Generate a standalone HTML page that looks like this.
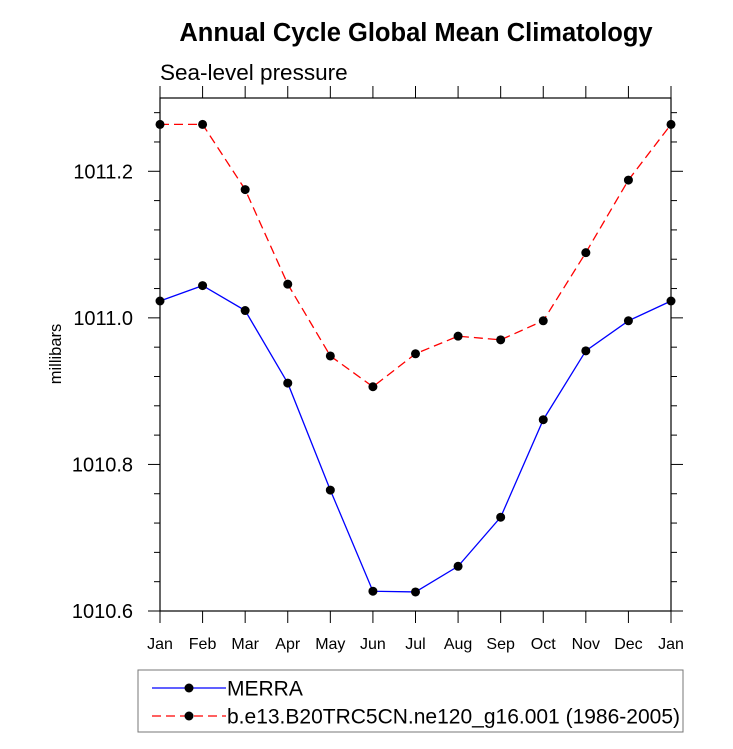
<!DOCTYPE html>
<html><head><meta charset="utf-8"><style>
body{margin:0;background:#fff;font-family:"Liberation Sans",sans-serif}
</style></head><body>
<svg id="chart" width="733" height="744" xmlns="http://www.w3.org/2000/svg" font-family="Liberation Sans, sans-serif">
<text x="416" y="41" text-anchor="middle" font-size="25.5" font-weight="bold">Annual Cycle Global Mean Climatology</text>
<text x="160" y="80" font-size="22.5">Sea-level pressure</text>
<text transform="translate(61,354) rotate(-90)" text-anchor="middle" font-size="16.5">millibars</text>
<g id="axes"></g>
<g id="series"></g>
<rect x="138" y="670" width="545" height="62" fill="none" stroke="#777" stroke-width="1"/>
<g>
<line x1="152" y1="688" x2="226" y2="688" stroke="#00f" stroke-width="1.3"/>
<circle cx="189" cy="688" r="4.5" fill="#000"/>
<text x="227" y="695.5" font-size="21">MERRA</text></g>
<g>
<line x1="152" y1="716" x2="226" y2="716" stroke="#f00" stroke-width="1.3" stroke-dasharray="9,5"/>
<circle cx="189" cy="716" r="4.5" fill="#000"/>
<text x="227" y="723.5" font-size="21">b.e13.B20TRC5CN.ne120_g16.001 (1986-2005)</text></g>
</svg>
<script>
const months=["Jan","Feb","Mar","Apr","May","Jun","Jul","Aug","Sep","Oct","Nov","Dec","Jan"];
const merra=[1011.023,1011.044,1011.010,1010.911,1010.765,1010.627,1010.626,1010.661,1010.728,1010.861,1010.955,1010.996,1011.023];
const model=[1011.264,1011.264,1011.175,1011.046,1010.948,1010.906,1010.951,1010.975,1010.970,1010.996,1011.089,1011.188,1011.264];
const yTicks=[1010.6,1010.8,1011.0,1011.2];
const yTickLabels=["1010.6","1010.8","1011.0","1011.2"];
const X0=160,X1=671,Y0=611,Y1=98,YMIN=1010.6,YMAX=1011.3;
const NS="http://www.w3.org/2000/svg";
const xs=i=>X0+(X1-X0)*i/(months.length-1);
const ys=v=>Y0-(v-YMIN)/(YMAX-YMIN)*(Y0-Y1);
function mk(t,a,p){const e=document.createElementNS(NS,t);for(const k in a)e.setAttribute(k,a[k]);p.appendChild(e);return e;}
const ax=document.getElementById('axes');
const frame=mk('rect',{x:X0,y:Y1,width:X1-X0,height:Y0-Y1,fill:'none',stroke:'#000','stroke-width':1.2},ax);


for(let v=YMIN;v<=YMAX+1e-9;v+=0.04){const y=ys(v);const maj=Math.abs((v-YMIN)/0.2-Math.round((v-YMIN)/0.2))<1e-6;const L=maj?12:6;
mk('line',{x1:X0,y1:y,x2:X0-L,y2:y,stroke:'#000'},ax);mk('line',{x1:X1,y1:y,x2:X1+L,y2:y,stroke:'#000'},ax);}
yTicks.forEach((v,i)=>{const t=mk('text',{x:X0-27,y:ys(v)+7,'text-anchor':'end','font-size':20},ax);t.textContent=yTickLabels[i];

});
months.forEach((m,i)=>{const x=xs(i);mk('line',{x1:x,y1:Y0,x2:x,y2:Y0+12,stroke:'#000'},ax);mk('line',{x1:x,y1:Y1,x2:x,y2:Y1-12,stroke:'#000'},ax);
const t=mk('text',{x:x,y:Y0+38,'text-anchor':'middle','font-size':16},ax);t.textContent=m;

});
const sg=document.getElementById('series');
function series(vals,color,dash,name){const g=mk('g',{},sg);


mk('polyline',{points:vals.map((v,i)=>xs(i)+','+ys(v)).join(' '),fill:'none',stroke:color,'stroke-width':1.3,'stroke-dasharray':dash},g);
vals.forEach((v,i)=>{const c=mk('circle',{cx:xs(i),cy:ys(v),r:4.5,fill:'#000'},g);

});}
series(model,'#f00','9,5','series-model');
series(merra,'#00f','none','series-merra');
</script>
</body></html>
